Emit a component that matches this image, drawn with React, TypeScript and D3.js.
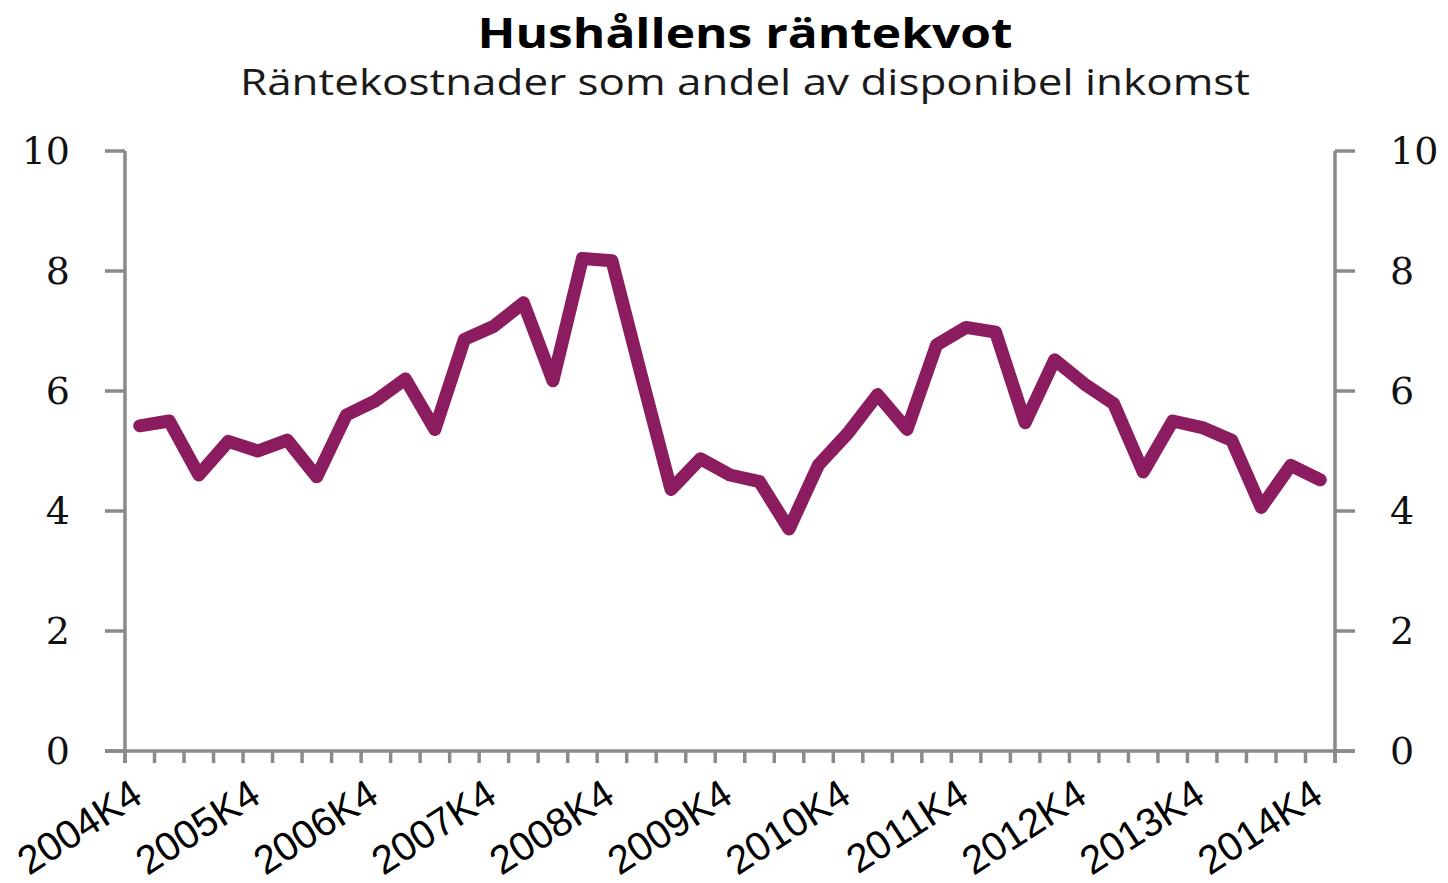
import React from "react";
import * as d3 from "d3";

const years = [2004, 2005, 2006, 2007, 2008, 2009, 2010, 2011, 2012, 2013, 2014];
const quarters: string[] = [];
years.forEach((y, yi) => {
  if (yi === 0) quarters.push(`${y}K4`);
  else ["K1", "K2", "K3", "K4"].forEach((q) => quarters.push(`${y}${q}`));
});

const values = [
  5.42, 5.5, 4.6, 5.16, 5.0, 5.18, 4.57, 5.6, 5.84, 6.2,
  5.36, 6.86, 7.08, 7.47, 6.17, 8.21, 8.17, 6.25, 4.36, 4.87,
  4.6, 4.49, 3.7, 4.77, 5.3, 5.94, 5.36, 6.77, 7.06, 6.98,
  5.47, 6.52, 6.12, 5.79, 4.65, 5.5, 5.39, 5.18, 4.06, 4.76,
  4.52,
];

const yTicks = [0, 2, 4, 6, 8, 10];
const labelEvery = 4;

const title = "Hushållens räntekvot";
const subtitle = "Räntekostnader som andel av disponibel inkomst";

export default function App() {
  const W = 1448, H = 883;
  const left = 125, right = 1335, top = 151, bottom = 751;
  const x = d3.scaleBand<string>().domain(quarters).range([left, right]);
  const y = d3.scaleLinear().domain([0, 10]).range([bottom, top]);
  const cx = (q: string) => (x(q) as number) + x.bandwidth() / 2;
  const line = d3
    .line<number>()
    .x((_, i) => cx(quarters[i]))
    .y((d) => y(d));
  const axisColor = "#8a8a8a";
  const boundaries = quarters.map((q) => x(q) as number).concat([right]);

  return (
    <svg width={W} height={H} style={{ position: "absolute", left: 0, top: 0, background: "#fff" }}>
      <text x={745} y={48} textAnchor="middle" fontFamily="Open Sans" fontWeight={700} fontSize={41}
        textLength={535} lengthAdjust="spacingAndGlyphs" fill="#000">
        {title}
      </text>
      <text x={745} y={95} textAnchor="middle" fontFamily="Open Sans" fontSize={37}
        textLength={1010} lengthAdjust="spacingAndGlyphs" fill="#1a1a1a">
        {subtitle}
      </text>
      {/* axes */}
      <line x1={left} x2={left} y1={top} y2={bottom + 12} stroke={axisColor} strokeWidth={3.5} />
      <line x1={right} x2={right} y1={top} y2={bottom + 12} stroke={axisColor} strokeWidth={3.5} />
      <line x1={left - 20} x2={right + 20} y1={bottom} y2={bottom} stroke={axisColor} strokeWidth={3.5} />
      {yTicks.map((t) => (
        <g key={t}>
          <line x1={left - 20} x2={left} y1={y(t)} y2={y(t)} stroke={axisColor} strokeWidth={3.5} />
          <line x1={right} x2={right + 20} y1={y(t)} y2={y(t)} stroke={axisColor} strokeWidth={3.5} />
          <text x={70} y={y(t)} dy="0.35em" textAnchor="end" fontFamily="DejaVu Serif" fontSize={38} fill="#111">
            {t}
          </text>
          <text x={1390} y={y(t)} dy="0.35em" textAnchor="start" fontFamily="DejaVu Serif" fontSize={38} fill="#111">
            {t}
          </text>
        </g>
      ))}
      {boundaries.map((b, i) => (
        <line key={i} x1={b} x2={b} y1={bottom} y2={bottom + 12} stroke={axisColor} strokeWidth={3.5} />
      ))}
      {quarters.map((q, i) =>
        i % labelEvery === 0 ? (
          <text
            key={q}
            transform={`translate(${cx(q) + 5},${bottom + 50}) rotate(-33)`}
            textAnchor="end"
            fontFamily="Liberation Sans"
            fontSize={40}
            fill="#000"
          >
            {q}
          </text>
        ) : null
      )}
      <path
        d={line(values) || ""}
        fill="none"
        stroke="#8b1c5f"
        strokeWidth={13}
        strokeLinejoin="round"
        strokeLinecap="round"
      />
    </svg>
  );
}
